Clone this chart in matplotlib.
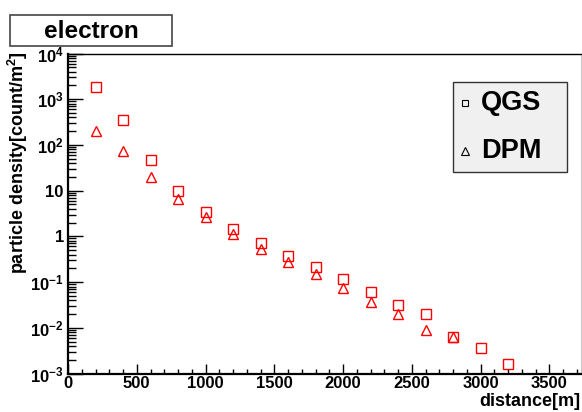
import matplotlib
matplotlib.use("Agg")
import matplotlib.pyplot as plt
from matplotlib.ticker import FixedLocator, NullFormatter
from matplotlib.patches import Rectangle

plt.rcParams["font.family"] = ["Liberation Sans", "DejaVu Sans"]
plt.rcParams["font.weight"] = "bold"
plt.rcParams["mathtext.fontset"] = "custom"
plt.rcParams["mathtext.rm"] = "Liberation Sans:bold"
plt.rcParams["mathtext.bf"] = "Liberation Sans:bold"
plt.rcParams["mathtext.it"] = "Liberation Sans:bold"
plt.rcParams["mathtext.default"] = "bf"

# Lateral electron density vs. core distance for two hadronic models
qgs_dist = [200, 400, 600, 800, 1000, 1200, 1400, 1600, 1800, 2000,
            2200, 2400, 2600, 2800, 3000, 3200]
qgs_density = [1850, 352, 47, 10, 3.4, 1.45, 0.71, 0.38, 0.21, 0.118,
               0.061, 0.031, 0.020, 0.0062, 0.0037, 0.0016]

dpm_dist = [200, 400, 600, 800, 1000, 1200, 1400, 1600, 1800, 2000,
            2200, 2400, 2600, 2800]
dpm_density = [202, 75, 19.6, 6.5, 2.7, 1.12, 0.53, 0.27, 0.15, 0.073,
               0.037, 0.020, 0.0089, 0.0064]

x_ticks = [0, 500, 1000, 1500, 2000, 2500, 3000, 3500]
x_tick_labels = ["0", "500", "1000", "1500", "2000", "2500", "3000", "3500"]
y_ticks = [1e-3, 1e-2, 1e-1, 1, 10, 1e2, 1e3, 1e4]
y_tick_labels = [r"$10^{-3}$", r"$10^{-2}$", r"$10^{-1}$", "1", "10",
                 r"$10^{2}$", r"$10^{3}$", r"$10^{4}$"]

W, H = 582, 412
fig = plt.figure(figsize=(W / 100, H / 100), dpi=100)
ax = fig.add_axes([68 / W, 1 - 373.5 / H, (581 - 68) / W, (373.5 - 53.5) / H])

red = "#ff0000"
ax.plot(qgs_dist, qgs_density, linestyle="none", marker="s", markersize=6.6,
        markerfacecolor="none", markeredgecolor=red, markeredgewidth=1.0,
        clip_on=False)
ax.plot(dpm_dist, dpm_density, linestyle="none", marker="^", markersize=7.2,
        markerfacecolor="none", markeredgecolor=red, markeredgewidth=1.0,
        clip_on=False)

ax.set_yscale("log")
ax.set_xlim(0, 3730)
ax.set_ylim(1e-3, 1e4)

ax.xaxis.set_major_locator(FixedLocator(x_ticks))
ax.set_xticklabels(x_tick_labels)
ax.xaxis.set_minor_locator(FixedLocator(list(range(0, 3731, 100))))
ax.yaxis.set_major_locator(FixedLocator(y_ticks))
ax.set_yticklabels(y_tick_labels)
minor_y = [m * 10.0 ** e for e in range(-3, 4) for m in range(2, 10)]
ax.yaxis.set_minor_locator(FixedLocator(minor_y))
ax.yaxis.set_minor_formatter(NullFormatter())

ax.tick_params(axis="x", which="major", direction="in", length=7.2, width=1.0,
               labelsize=12, pad=2)
ax.tick_params(axis="x", which="minor", direction="in", length=3.6, width=1.0)
ax.tick_params(axis="y", which="major", direction="in", length=10.8, width=1.0,
               labelsize=12, pad=3)
ax.tick_params(axis="y", which="minor", direction="in", length=5.8, width=1.0)
ax.tick_params(top=False, right=False, which="both")

ax.spines["left"].set_linewidth(1.6)
ax.spines["bottom"].set_linewidth(1.6)
ax.spines["top"].set_linewidth(1.0)
ax.spines["right"].set_linewidth(0.8)
ax.spines["right"].set_color("#c8c8c8")

# Axis titles
fig.text(18 / W, 1 - 51 / H, r"particle density[count/m$^{2}$]", rotation=90,
         ha="center", va="top", fontsize=13, fontweight="bold")
fig.text(580 / W, 1 - 410 / H, "distance[m]", ha="right", va="bottom",
         fontsize=13, fontweight="bold")

# Title box
fig.patches.append(Rectangle((10 / W, 1 - 45.5 / H), 162 / W, 31 / H,
                             transform=fig.transFigure, facecolor="white",
                             edgecolor="#444444", linewidth=1.2))
fig.text(91 / W, 1 - 31 / H, "electron", ha="center", va="center",
         fontsize=17.5, fontweight="bold")

# Legend box
fig.patches.append(Rectangle((453 / W, 1 - 171.5 / H), 114 / W, 90 / H,
                             transform=fig.transFigure, facecolor="#f0f0f0",
                             edgecolor="#333333", linewidth=1.0))
fig.lines.append(plt.Line2D([465 / W], [1 - 103 / H], transform=fig.transFigure,
                            marker="s", markersize=5, markerfacecolor="none",
                            markeredgecolor="black", markeredgewidth=0.8,
                            linestyle="none"))
fig.lines.append(plt.Line2D([465 / W], [1 - 151 / H], transform=fig.transFigure,
                            marker="^", markersize=5.5, markerfacecolor="none",
                            markeredgecolor="black", markeredgewidth=0.8,
                            linestyle="none"))
fig.text(481 / W, 1 - 103.5 / H, "QGS", ha="left", va="center",
         fontsize=19.5, fontweight="bold")
fig.text(481 / W, 1 - 151.5 / H, "DPM", ha="left", va="center",
         fontsize=19.5, fontweight="bold")

fig.savefig("out.png", dpi=100)
